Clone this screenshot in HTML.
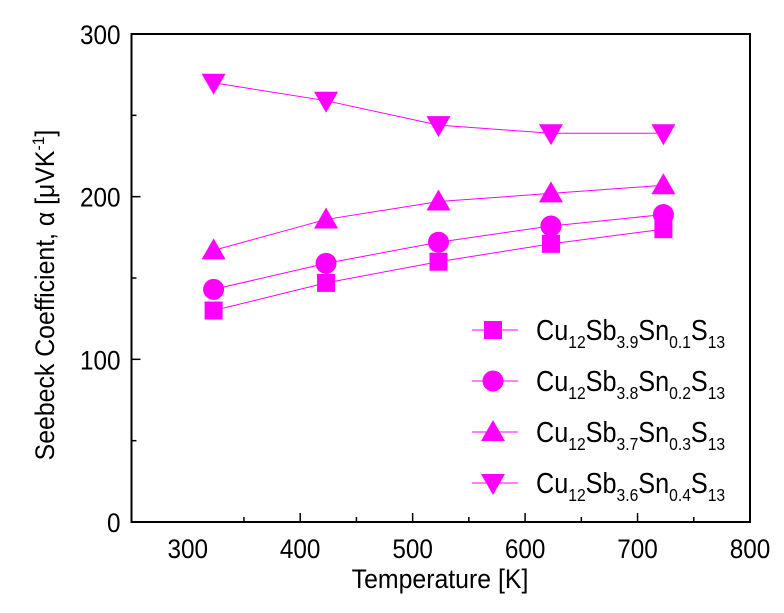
<!DOCTYPE html>
<html><head><meta charset="utf-8">
<style>
html,body{margin:0;padding:0;background:#fff;}
svg{display:block;font-family:"Liberation Sans",Arial,sans-serif;}
</style></head>
<body>
<svg id="chart" width="784" height="613" viewBox="0 0 784 613" xmlns="http://www.w3.org/2000/svg">
<g id="axes"></g>
<g id="series"></g>
<g id="legend"></g>
<text transform="translate(440,588) scale(0.92,1)" font-size="27" text-anchor="middle">Temperature [K]</text>
<text transform="translate(54,295) rotate(-90) scale(0.92,1)" font-size="27" text-anchor="middle">Seebeck Coefficient, α [μVK<tspan dy="-10" font-size="17">-1</tspan><tspan dy="10">]</tspan></text>
</svg>
<script>
const temps = [323, 423, 523, 623, 723];
const sSq = [130, 147, 160, 171, 180];
const sCi = [143, 159, 172, 182, 189];
const sUp = [167, 186, 197, 202, 207];
const sDn = [270, 259, 244, 239, 239];
const xTicks = [300, 400, 500, 600, 700, 800];
const yTicks = [0, 100, 200, 300];
const subs = [["3.9","0.1"],["3.8","0.2"],["3.7","0.3"],["3.6","0.4"]];

const NS = "http://www.w3.org/2000/svg";
const L = 131.5, R = 750, T = 34, B = 522;
const xMin = 250, xMax = 800, yMin = 0, yMax = 300;
const C = "#ff00ff";
function xs(v){return L + (v - xMin) / (xMax - xMin) * (R - L);}
function ys(v){return B - (v - yMin) / (yMax - yMin) * (B - T);}
function mk(tag, attrs, parent){const e=document.createElementNS(NS,tag);for(const k in attrs)e.setAttribute(k,attrs[k]);parent.appendChild(e);return e;}

const axes = document.getElementById('axes');
const frame = mk('rect',{x:L,y:T,width:R-L,height:B-T,fill:'none',stroke:'#000','stroke-width':2},axes);


for (let v = 350; v < 800; v += 50) {
  const major = v % 100 === 0;
  const t = mk('line',{x1:xs(v),x2:xs(v),y1:B,y2:B-(major?9:5),stroke:'#000','stroke-width':1.5},axes);
  
  
}
for (let v = 50; v < 300; v += 50) {
  const major = v % 100 === 0;
  const t = mk('line',{x1:L,x2:L+(major?9:5),y1:ys(v),y2:ys(v),stroke:'#000','stroke-width':1.5},axes);
  
  
}
xTicks.forEach(v=>{
  const t = mk('text',{transform:`translate(${xs(v)},${B+36}) scale(0.9,1)`,'font-size':27,'text-anchor':'middle'},axes);
  t.textContent = v;
  
  
});
yTicks.forEach(v=>{
  const t = mk('text',{transform:`translate(${L-11},${ys(v)+10}) scale(0.9,1)`,'font-size':27,'text-anchor':'end'},axes);
  t.textContent = v;
  
  
});

function marker(type, cx, cy, parent){
  let e;
  if (type==='sq') e = mk('rect',{x:cx-9,y:cy-9,width:18,height:18,fill:C},parent);
  else if (type==='ci') e = mk('circle',{cx:cx,cy:cy,r:10.5,fill:C},parent);
  else if (type==='up') e = mk('polygon',{points:`${cx},${cy-12} ${cx-12},${cy+9} ${cx+12},${cy+9}`,fill:C},parent);
  else e = mk('polygon',{points:`${cx},${cy+12} ${cx-12},${cy-9} ${cx+12},${cy-9}`,fill:C},parent);
  return e;
}
const seriesG = document.getElementById('series');
const allSeries = [[sSq,'sq','series-sn01'],[sCi,'ci','series-sn02'],[sUp,'up','series-sn03'],[sDn,'dn','series-sn04']];
allSeries.forEach(([vals,type,name])=>{
  const g = mk('g',{},seriesG);
  
  
  const pl = mk('polyline',{points:vals.map((v,i)=>xs(temps[i])+','+ys(v)).join(' '),fill:'none',stroke:C,'stroke-width':1},g);
  
  
  vals.forEach((v,i)=>{
    const m = marker(type, xs(temps[i]), ys(v), g);
    
    
  });
});

const lg = document.getElementById('legend');
['sq','ci','up','dn'].forEach((type,i)=>{
  const y = 330 + i*51;
  const g = mk('g',{},lg);
  
  
  mk('line',{x1:472,x2:518,y1:y,y2:y,stroke:C,'stroke-width':1},g);
  marker(type,493,y,g);
  const t = mk('text',{transform:`translate(536,${y+10}) scale(0.87,1)`,'font-size':29},g);
  t.innerHTML = `Cu<tspan dy="8" font-size="18">12</tspan><tspan dy="-8">Sb</tspan><tspan dy="8" font-size="18">${subs[i][0]}</tspan><tspan dy="-8">Sn</tspan><tspan dy="8" font-size="18">${subs[i][1]}</tspan><tspan dy="-8">S</tspan><tspan dy="8" font-size="18">13</tspan>`;
});
</script>
</body></html>
